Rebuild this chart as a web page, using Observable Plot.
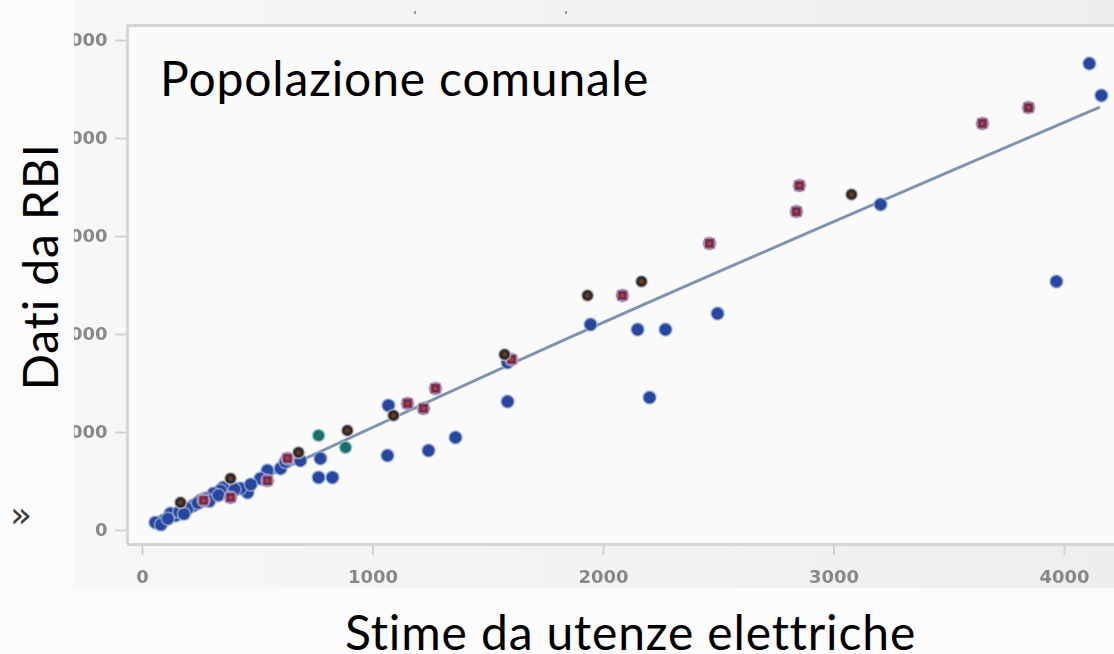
<!DOCTYPE html>
<html><head><meta charset="utf-8">
<script src="https://cdn.jsdelivr.net/npm/d3@7"></script>
<script src="https://cdn.jsdelivr.net/npm/@observablehq/plot@0.6"></script>
<style>
html,body{margin:0;padding:0;background:#fbfbfb;width:1114px;height:654px;overflow:hidden;font-family:Lato,"Open Sans",sans-serif}
#panel{position:absolute;left:74px;top:0;width:1040px;height:588px;overflow:hidden;background:linear-gradient(90deg,#f7f7f7,#eeeeee);}
#chart{position:absolute;left:-74px;top:0;width:1300px;height:588px;}
#chart svg{filter:blur(0.7px);max-width:none !important;}
.big{position:absolute;font-family:Lato,"Open Sans",sans-serif;font-size:48px;line-height:48px;letter-spacing:0.85px;color:#000;white-space:nowrap;}
#title{left:160px;top:54px;}
#xlab{left:345px;top:608px;}
#ylab{left:-83px;top:244px;width:245px;height:48px;text-align:center;transform:rotate(-90deg);}
#chev{position:absolute;left:10px;top:497px;font-size:36px;line-height:36px;color:#3a3a3a;font-family:"DejaVu Sans",sans-serif;}
.dotdec{position:absolute;width:2px;height:3px;background:#9a9a9a;top:11px;}
</style></head>
<body>
<div id="panel"><div id="chart"></div></div>
<div class="dotdec" style="left:414px"></div>
<div class="dotdec" style="left:565px"></div>
<div id="title" class="big">Popolazione comunale</div>
<div id="ylab" class="big">Dati da RBI</div>
<div id="xlab" class="big">Stime da utenze elettriche</div>
<div id="chev">»</div>
<script>
// Data (x = Stime da utenze elettriche, y = Dati da RBI)
const blueX = [4108,4160,3202,3965,2495,1944,2148,2269,2200,1584,1584,1067,1358,1241,1063,772,764,824,542,456,425,351,338,308,273,252,221,195,143,121,91,56,512,599,685,80,110,160,180,240,290,330,400,470,620];
const blueY = [4765,4439,3327,2541,2214,2102,2051,2051,1357,1316,1714,1276,949,816,765,735,541,541,612,388,429,439,408,378,327,306,255,224,153,173,102,82,531,633,714,60,120,190,170,280,300,360,420,470,700];
const redX = [3844,3644,2850,2837,2460,2082,1601,1271,1150,1219,629,542,265,382];
const redY = [4316,4153,3520,3255,2929,2398,1745,1449,1296,1245,735,510,306,337];
const blackX = [3076,2165,1931,1571,1089,889,677,382,165];
const blackY = [3429,2541,2398,1796,1173,1020,796,531,286];
const tealX = [881,764];
const tealY = [847,969];
const fitX = [65,1944,4148];
const fitY = [31,2065,4316];
const xTicks = [0,1000,2000,3000,4000];
const yTicks = [0,1000,2000,3000,4000,5000];
const xDomain = [-65,4800];
const yDomain = [-143,5153];

const blue = blueX.map((x,i)=>({x,y:blueY[i]}));
const red = redX.map((x,i)=>({x,y:redY[i]}));
const black = blackX.map((x,i)=>({x,y:blackY[i]}));
const teal = tealX.map((x,i)=>({x,y:tealY[i]}));
const fit = fitX.map((x,i)=>({x,y:fitY[i]}));

const W = 1300;
const chart = Plot.plot({
  width: W, height: 588,
  marginLeft: 127, marginTop: 25, marginBottom: 44, marginRight: 51.6,
  style:{background:"transparent", fontFamily:"DejaVu Sans, sans-serif", fontSize:"18px", overflow:"hidden", maxWidth:"none"},
  x:{domain:xDomain},
  y:{domain:yDomain},
  marks:[
    Plot.frame({fill:"#fafafa", stroke:"none"}),
    Plot.axisX(xTicks,{tickSize:11, tickPadding:15, stroke:"#cfd1d3", strokeWidth:2, fill:"#888888", fontSize:18, fontWeight:"bold", tickFormat:d=>String(d), label:null}),
    Plot.axisY(yTicks,{tickSize:12, tickPadding:8, stroke:"#cfd1d3", strokeWidth:2, fill:"#888888", fontSize:18, fontWeight:"bold", tickFormat:d=>String(d), label:null}),
    Plot.ruleY([yDomain[1]],{stroke:"#d3d5d7", strokeWidth:3}),
    Plot.ruleX([xDomain[0]],{stroke:"#d3d5d7", strokeWidth:3}),
    Plot.ruleY([yDomain[0]],{stroke:"#d3d5d7", strokeWidth:3}),
    Plot.line(fit,{x:"x",y:"y",stroke:"#7f94b4",strokeWidth:3,curve:"natural"}),
    Plot.dot(blue,{x:"x",y:"y",r:6.5,fill:"#2646a0",stroke:"#9fb2de",strokeWidth:2,strokeOpacity:0.6}),
    Plot.dot(red,{x:"x",y:"y",r:6.5,fill:"#5a63a8",stroke:"#b9c3e4",strokeWidth:2,strokeOpacity:0.5}),
    Plot.dot(red,{x:"x",y:"y",r:5.5,symbol:"square",fill:"#6a2c58",stroke:"#d3929c",strokeWidth:1.5,strokeOpacity:0.7}),
    Plot.dot(red,{x:"x",y:"y",r:2,symbol:"square",fill:"#c0392b"}),
    Plot.dot(black,{x:"x",y:"y",r:6,symbol:"circle",fill:"#2a2c3c",stroke:"#d9cbb3",strokeWidth:2,strokeOpacity:0.6}),
    Plot.dot(black,{x:"x",y:"y",r:2.2,fill:"#7a3b00"}),
    Plot.dot(teal,{x:"x",y:"y",r:6,fill:"#17706e",stroke:"#8fc1c0",strokeWidth:2,strokeOpacity:0.6})
  ]
});
document.getElementById("chart").appendChild(chart);
</script>
</body></html>
